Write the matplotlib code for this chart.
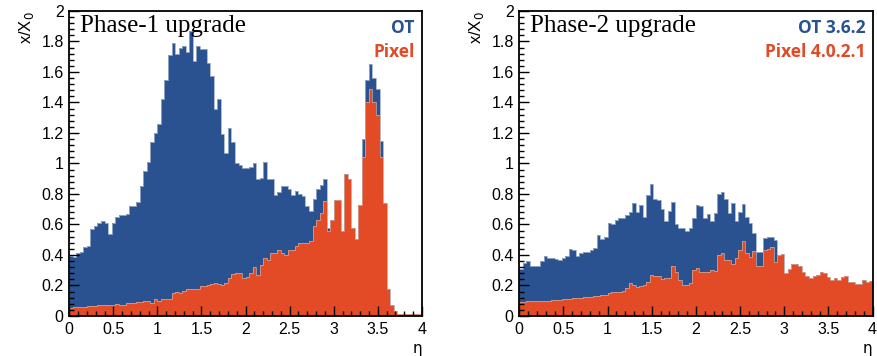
import matplotlib
matplotlib.use("Agg")
import matplotlib.pyplot as plt
import numpy as np
from matplotlib.ticker import MultipleLocator, FuncFormatter

# eta binning: 100 bins of 0.04 from 0 to 4
eta_edges = np.linspace(0, 4, 101)

# Phase-1: material budget x/X0 (OT drawn behind, Pixel in front)
p1_ot = [
    0.39, 0.385, 0.41, 0.42, 0.45, 0.46, 0.57, 0.59, 0.61, 0.62,
    0.61, 0.54, 0.61, 0.65, 0.66, 0.66, 0.67, 0.72, 0.72, 0.745,
    0.85, 0.95, 1.01, 1.14, 1.20, 1.26, 1.42, 1.55, 1.71, 1.79,
    1.72, 1.76, 1.77, 1.73, 1.87, 1.67, 1.77, 1.75, 1.75, 1.66,
    1.57, 1.36, 1.42, 1.19, 1.07, 1.23, 1.14, 1.00, 0.99, 0.97,
    0.97, 0.975, 1.00, 0.895, 0.906, 1.01, 0.895, 0.90, 0.79, 0.81,
    0.85, 0.85, 0.83, 0.79, 0.82, 0.80, 0.785, 0.72, 0.69, 0.77,
    0.83, 0.86, 0.895, 0.58, 0.627, 0.76, 0.76, 0.556, 0.93, 0.90,
    0.58, 0.505, 0.73, 1.16, 1.55, 1.65, 1.56, 1.49, 1.15, 0.74,
    0.18, 0.07, 0.03, 0.015, 0.015, 0.015, 0.015, 0.015, 0.015, 0.015,
]
p1_pixel = [
    0.055, 0.06, 0.06, 0.06, 0.062, 0.065, 0.066, 0.068, 0.07, 0.07,
    0.072, 0.074, 0.074, 0.078, 0.072, 0.072, 0.082, 0.083, 0.087, 0.09,
    0.092, 0.095, 0.096, 0.087, 0.11, 0.10, 0.114, 0.114, 0.11, 0.15,
    0.16, 0.15, 0.165, 0.175, 0.175, 0.18, 0.18, 0.197, 0.195, 0.20,
    0.21, 0.215, 0.21, 0.204, 0.215, 0.25, 0.275, 0.28, 0.28, 0.25,
    0.255, 0.28, 0.32, 0.27, 0.335, 0.38, 0.37, 0.41, 0.41, 0.43,
    0.41, 0.40, 0.43, 0.43, 0.456, 0.478, 0.478, 0.478, 0.49, 0.587,
    0.63, 0.675, 0.757, 0.56, 0.627, 0.76, 0.76, 0.556, 0.93, 0.90,
    0.58, 0.505, 0.73, 1.04, 1.40, 1.49, 1.40, 1.32, 1.04, 0.74,
    0.18, 0.07, 0.03, 0.015, 0.015, 0.015, 0.015, 0.015, 0.015, 0.015,
]

# Phase-2: OT 3.6.2 / Pixel 4.0.2.1
p2_ot = [
    0.31, 0.345, 0.36, 0.33, 0.33, 0.325, 0.36, 0.395, 0.38, 0.38,
    0.373, 0.37, 0.38, 0.395, 0.44, 0.434, 0.395, 0.41, 0.42, 0.42,
    0.434, 0.445, 0.53, 0.505, 0.52, 0.61, 0.605, 0.63, 0.643, 0.645,
    0.66, 0.68, 0.74, 0.68, 0.73, 0.65, 0.79, 0.862, 0.77, 0.76,
    0.70, 0.62, 0.686, 0.745, 0.60, 0.577, 0.577, 0.555, 0.58, 0.64,
    0.73, 0.72, 0.64, 0.67, 0.62, 0.675, 0.80, 0.81, 0.77, 0.675,
    0.74, 0.625, 0.68, 0.735, 0.65, 0.61, 0.544, 0.42, 0.42, 0.51,
    0.52, 0.52, 0.50, 0.40, 0.408, 0.28, 0.307, 0.34, 0.34, 0.325,
    0.29, 0.263, 0.248, 0.263, 0.27, 0.287, 0.28, 0.254, 0.237, 0.248,
    0.237, 0.254, 0.259, 0.226, 0.22, 0.21, 0.21, 0.237, 0.225, 0.232,
]
p2_pixel = [
    0.094, 0.094, 0.096, 0.099, 0.099, 0.10, 0.10, 0.10, 0.10, 0.105,
    0.105, 0.105, 0.11, 0.112, 0.112, 0.115, 0.12, 0.12, 0.125, 0.127,
    0.127, 0.13, 0.133, 0.138, 0.14, 0.149, 0.16, 0.156, 0.16, 0.167,
    0.182, 0.215, 0.204, 0.189, 0.197, 0.204, 0.226, 0.27, 0.263, 0.259,
    0.241, 0.248, 0.246, 0.325, 0.29, 0.237, 0.204, 0.204, 0.215, 0.30,
    0.314, 0.29, 0.287, 0.287, 0.30, 0.298, 0.40, 0.41, 0.37, 0.365,
    0.34, 0.38, 0.434, 0.49, 0.41, 0.386, 0.428, 0.325, 0.325, 0.434,
    0.44, 0.45, 0.357, 0.40, 0.408, 0.28, 0.307, 0.34, 0.34, 0.325,
    0.29, 0.263, 0.248, 0.263, 0.27, 0.287, 0.28, 0.254, 0.237, 0.248,
    0.237, 0.254, 0.259, 0.226, 0.22, 0.21, 0.21, 0.237, 0.225, 0.232,
]

blue = "#2a5290"
red = "#e34a26"

fig = plt.figure(figsize=(8.77, 3.56), dpi=100)
ax1 = fig.add_axes([0.079, 0.1124, 0.402, 0.857])
ax2 = fig.add_axes([0.592, 0.1124, 0.403, 0.857])

panels = [
    (ax1, p1_ot, p1_pixel, "Phase-1 upgrade", "OT", "Pixel"),
    (ax2, p2_ot, p2_pixel, "Phase-2 upgrade", "OT 3.6.2", "Pixel 4.0.2.1"),
]

for ax, ot, pix, title, lab_ot, lab_pix in panels:
    ax.stairs(ot, eta_edges, fill=True, color=blue, zorder=1)
    ax.stairs(ot, eta_edges, color="#9fb0c8", linewidth=0.6, zorder=1.1)
    ax.stairs(pix, eta_edges, fill=True, color=red, zorder=2)
    ax.stairs(pix, eta_edges, color="#c9b0a8", linewidth=0.5, zorder=2.1)

    ax.set_xlim(0, 4)
    ax.set_ylim(0, 2)
    ax.xaxis.set_major_locator(MultipleLocator(0.5))
    ax.xaxis.set_minor_locator(MultipleLocator(0.1))
    ax.yaxis.set_major_locator(MultipleLocator(0.2))
    ax.yaxis.set_minor_locator(MultipleLocator(0.04))
    fmt = FuncFormatter(lambda v, p: "%g" % round(v, 2))
    ax.xaxis.set_major_formatter(fmt)
    ax.yaxis.set_major_formatter(fmt)
    ax.tick_params(which="both", direction="in", top=False, right=False,
                   labelsize=11.5, width=1.0, color="black")
    ax.tick_params(which="major", length=7.5, pad=4)
    ax.tick_params(which="minor", length=3.6)
    for lab in ax.get_xticklabels() + ax.get_yticklabels():
        lab.set_fontfamily("Liberation Sans")
    for s in ax.spines.values():
        s.set_linewidth(1.3)
        s.set_zorder(5)
    ax.set_axisbelow(False)

    ax.set_ylabel("x/X$_0$", fontsize=12, family="Liberation Sans", loc="top", labelpad=4)
    ax.set_xlabel("η", fontsize=11, family="DejaVu Sans", loc="right", labelpad=3)

    ax.text(0.03, 0.985, title, transform=ax.transAxes, ha="left", va="top",
            fontsize=18, family="Liberation Serif", zorder=6)
    ax.text(0.98, 0.975, lab_ot, transform=ax.transAxes, ha="right", va="top",
            fontsize=12.5, family="Open Sans", fontweight="bold", color=blue, zorder=6)
    ax.text(0.98, 0.895, lab_pix, transform=ax.transAxes, ha="right", va="top",
            fontsize=12.5, family="Open Sans", fontweight="bold", color=red, zorder=6)

fig.savefig("out.png", dpi=100)
